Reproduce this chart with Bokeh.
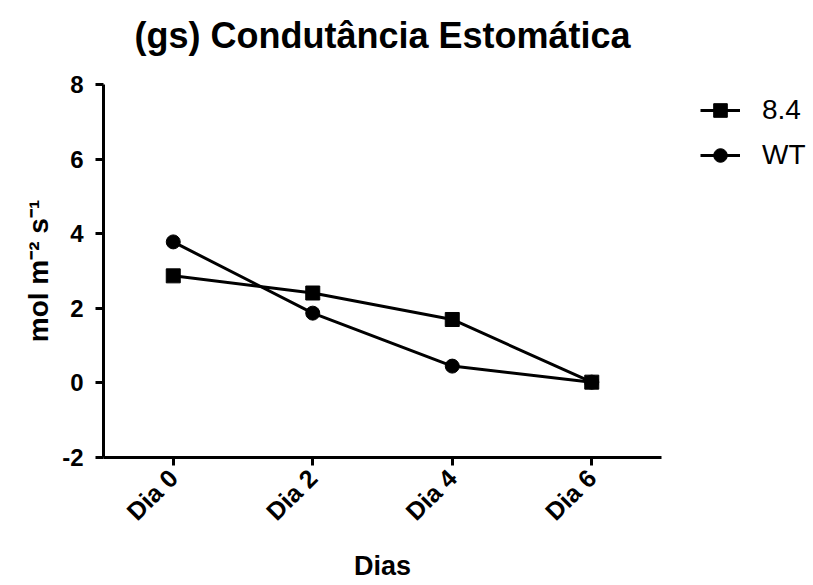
from bokeh.plotting import figure
from bokeh.models import Range1d, FactorRange, Legend, LegendItem, Title
from bokeh.embed import file_html
from bokeh.resources import INLINE
from math import pi

categories = ["Dia 0", "Dia 2", "Dia 4", "Dia 6"]
series_84 = [2.87, 2.41, 1.70, 0.02]
series_wt = [3.78, 1.87, 0.45, 0.02]
y_ticks = [-2, 0, 2, 4, 6, 8]

FONT = "Liberation Sans"

p = figure(x_range=FactorRange(*categories, range_padding=0), y_range=Range1d(-2, 8),
           frame_width=558, frame_height=373,
           min_border_left=103, min_border_top=84, min_border_right=140, min_border_bottom=124,
           output_backend="svg", toolbar_location=None,
           title="(gs) Condutância Estomática")

p.title.text_font = FONT
p.title.text_font_size = "36px"
p.title.text_font_style = "bold"
p.title.text_color = "black"
p.title.align = "center"
p.title.vertical_align = "top"
p.title.standoff = 27

# spacer between title and frame
spacer = Title(text=" ", text_font_size="8px", standoff=2, text_color="white")
p.add_layout(spacer, "above")

p.outline_line_color = None
p.xgrid.visible = False
p.ygrid.visible = False

for ax in (p.xaxis[0], p.yaxis[0]):
    ax.axis_line_width = 3
    ax.major_tick_line_width = 3
    ax.major_tick_out = 8
    ax.major_tick_in = 0
    ax.minor_tick_line_color = None
    ax.major_label_text_font = FONT
    ax.major_label_text_font_style = "bold"
    ax.major_label_text_color = "black"
    ax.axis_label_text_font = FONT
    ax.axis_label_text_font_style = "bold"
    ax.axis_label_text_color = "black"

p.yaxis.ticker = y_ticks
p.yaxis.major_label_overrides = {-2: "-2"}
p.yaxis.major_label_text_font_size = "24px"
p.yaxis.axis_label = "mol m⁻² s⁻¹"
p.yaxis.axis_label_text_font_size = "28px"
p.yaxis.major_label_standoff = 12
p.xaxis.axis_label = "Dias"
p.xaxis.axis_label_text_font_size = "27px"
p.xaxis.major_label_text_font_size = "25px"
p.xaxis.major_label_orientation = pi / 4
p.xaxis.major_label_standoff = 8
p.xaxis.axis_label_standoff = 12

l1 = p.line(categories, series_84, line_color="black", line_width=3)
m1 = p.scatter(categories, series_84, marker="square", size=14, color="black")
l2 = p.line(categories, series_wt, line_color="black", line_width=3)
m2 = p.scatter(categories, series_wt, marker="circle", size=14, color="black")

legend = Legend(items=[LegendItem(label="8.4", renderers=[l1, m1]),
                       LegendItem(label="WT", renderers=[l2, m2])],
                location=(39, 285))
legend.border_line_color = None
legend.background_fill_alpha = 0
legend.label_text_font = FONT
legend.label_text_font_size = "28px"
legend.label_text_color = "black"
legend.glyph_width = 40
legend.glyph_height = 34
legend.spacing = 11
legend.label_standoff = 22
legend.padding = 0
legend.margin = 0
p.add_layout(legend, "right")

open("out.html", "w").write(file_html(p, INLINE))
